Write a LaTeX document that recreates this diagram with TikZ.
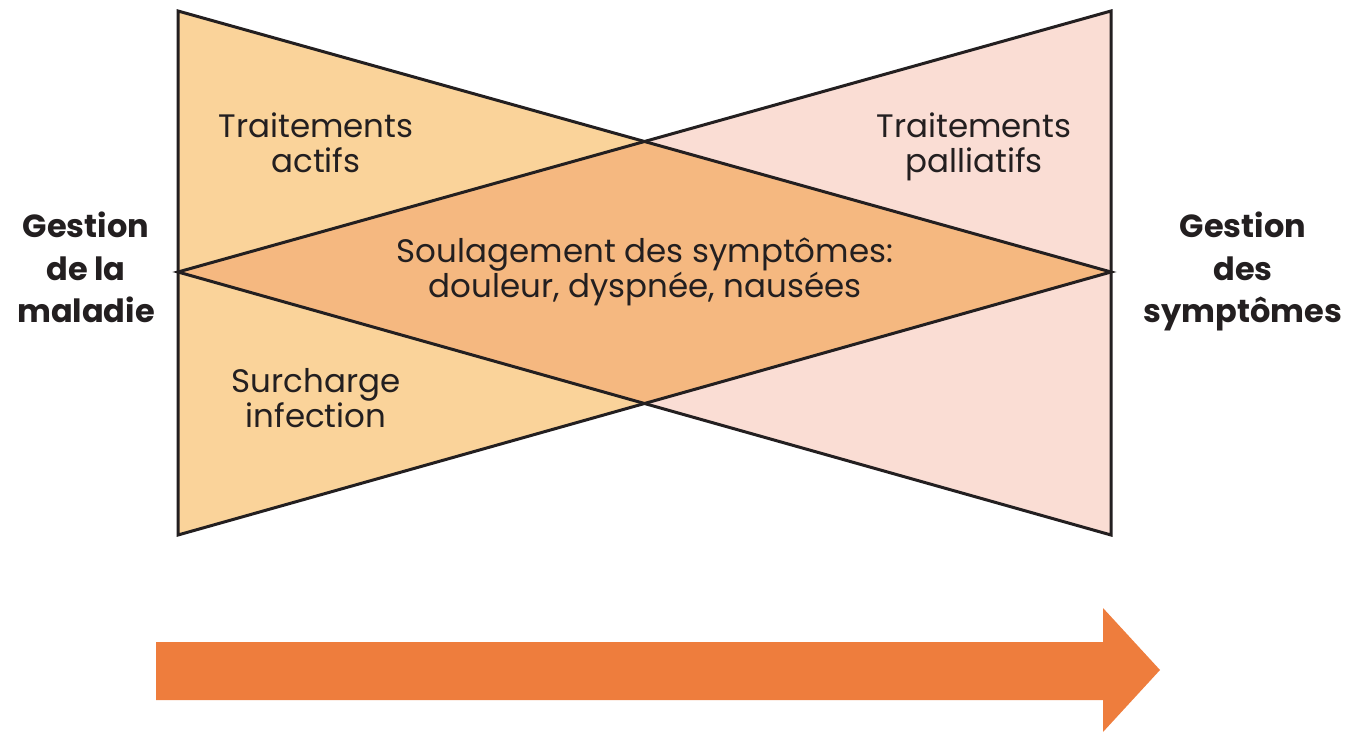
\documentclass[tikz,border=0pt]{standalone}
\usepackage{fontspec}
\setmainfont{Poppins}
\definecolor{leftfill}{HTML}{FAD39A}
\definecolor{rightfill}{HTML}{FADDD4}
\definecolor{midfill}{HTML}{F5B880}
\definecolor{arrowfill}{HTML}{EE7D3D}
\definecolor{ink}{HTML}{231F20}
\begin{document}
\begin{tikzpicture}[x=1pt,y=-1pt,
  lbl/.style={align=center,text=ink,anchor=base,inner sep=0pt,font=\fontsize{32.5}{35}\selectfont},
  side/.style={align=center,text=ink,anchor=base,inner sep=0pt,font=\bfseries\fontsize{32}{42.5}\selectfont},
  edge/.style={draw=ink,line width=3pt,line join=miter}]
\useasboundingbox (0,0) rectangle (1347,735);
% corner coordinates
\coordinate (LT) at (178,11);
\coordinate (LB) at (178,535);
\coordinate (LA) at (178,272);
\coordinate (RT) at (1111,11);
\coordinate (RB) at (1111,535);
\coordinate (RA) at (1111,272);
\coordinate (XT) at (644.5,141.5);
\coordinate (XB) at (644.5,403.5);
% fills
\fill[leftfill] (LT) -- (RA) -- (LB) -- cycle;
\fill[rightfill] (RT) -- (RB) -- (LA) -- cycle;
\fill[midfill] (LA) -- (XT) -- (RA) -- (XB) -- cycle;
% outlines
\draw[edge] (LT) -- (RA) -- (LB) -- cycle;
\draw[edge] (RT) -- (RB) -- (LA) -- cycle;
% labels (anchor = baseline of last line)
\node[lbl] (ta) at (316,173) {Traitements\\actifs};
\node[lbl] (tp) at (974,173) {Traitements\\palliatifs};
\node[lbl] (sl) at (645,298) {Soulagement des symptômes:\\douleur, dyspnée, nausées};
\node[lbl] (si) at (316,427) {Surcharge\\infection};
\node[side] (gm) at (86,323) {Gestion\\de la\\maladie};
\node[side] (gs) at (1243,323) {Gestion\\des\\symptômes};
% arrow
\fill[arrowfill] (156,642) -- (1103,642) -- (1103,608) -- (1160,670) -- (1103,732) -- (1103,700) -- (156,700) -- cycle;
\end{tikzpicture}
\end{document}
